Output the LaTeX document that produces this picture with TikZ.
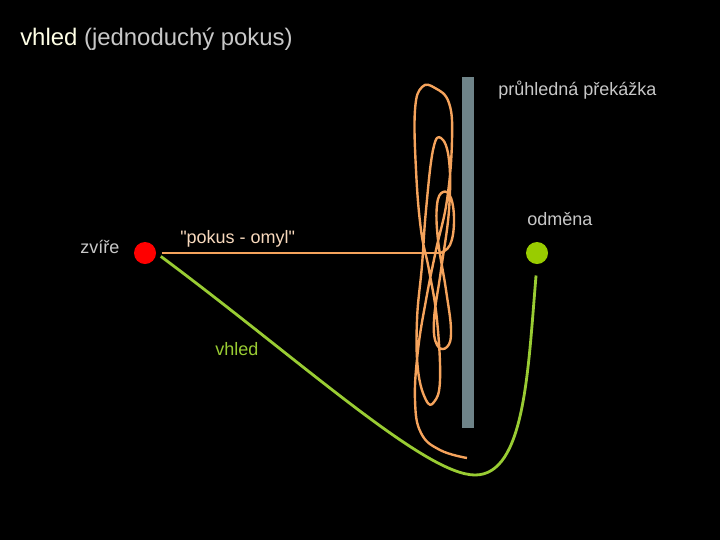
\documentclass[tikz,border=0pt]{standalone}
\usepackage{fontspec}
\setmainfont{Liberation Sans}[Ligatures=TeXOff]
\usepackage{xcolor}
\definecolor{cBg}{HTML}{000000}
\definecolor{cBar}{HTML}{6F8489}
\definecolor{cTrial}{HTML}{F5A35C}
\definecolor{cTrialText}{HTML}{F8D9BD}
\definecolor{cInsight}{HTML}{99CC33}
\definecolor{cAnimal}{HTML}{FF0000}
\definecolor{cGoal}{HTML}{99CC00}
\definecolor{cLabel}{HTML}{C8C8C8}
\definecolor{cTitle}{HTML}{FFFFE6}
\usetikzlibrary{positioning,calc}
\tikzset{
  node-dot/.style={circle,inner sep=0pt,minimum size=0.55cm},
  node-label/.style={text=cLabel,inner sep=0pt,font=\fontsize{12.8}{15}\selectfont},
  node-title/.style={text=cLabel,inner sep=0pt,font=\fontsize{17}{20}\selectfont},
  node-barrier/.style={fill=cBar,inner sep=0pt,minimum width=0.3cm,minimum height=8.775cm},
  line-trial/.style={draw=cTrial,line width=2pt},
  line-tangle/.style={draw=cTrial,line width=1.7pt,line join=round},
  line-insight/.style={draw=cInsight,line width=2pt},
}

\begin{document}
\begin{tikzpicture}[x=0.025cm,y=-0.025cm]
  \fill[cBg] (0,0) rectangle (720,540);
  \useasboundingbox (0,0) rectangle (720,540);
  \node[node-title,anchor=base west] (nadpis) at (20,45)
    {{\color{cTitle}vhled} (jednoduchý pokus)};
  \node[node-barrier] (prekazka) at (468,252.5) {};
  \node[node-label,anchor=base west] (prekazka-text) at (498,95) {průhledná překážka};
  \node[node-dot,fill=cAnimal] (zvire) at (145,253) {};
  \node[node-dot,fill=cGoal] (odmena) at (537,253) {};
  \node[node-label,anchor=base west] (zvire-text) at (80,253) {zvíře};
  \node[node-label,anchor=base west] (odmena-text) at (527,225) {odměna};
  \node[node-label,anchor=base west,text=cTrialText] (pokus-text) at (180,243)
    {"pokus - omyl"};
  \node[node-label,anchor=base west,text=cInsight] (vhled-text) at (215,355) {vhled};
  \coordinate (tangle) at (440,253);
  \draw[line-trial,shorten <=4pt] (zvire.east) -- (tangle);
  \draw[line-tangle] plot[smooth,tension=0.7] coordinates {
    (440,253) (450,245) (454,222) (451,198) (443,192) (437,205) (438,240)
    (446,290) (451,330) (447,347) (437,345) (434,320) (441,270) (449,210)
    (449,160) (441,138) (433,150) (426,210) (422,265) (417,320) (418,370)
    (426,400) (434,402) (440,380) (437,320) (429,270) (421,230) (416,170)
    (415,110) (422,87) (435,88) (449,103) (452,140) (447,200) (436,250)
    (426,300) (418,350) (415,400) (421,433) (440,450) (467,458)};
  \draw[line-insight,shorten <=4pt,shorten >=8pt] (zvire.east)
    .. controls (300,360) and (425,475) .. (475,475)
    .. controls (525,475) and (528,370) .. (odmena.south);
\end{tikzpicture}
\end{document}
